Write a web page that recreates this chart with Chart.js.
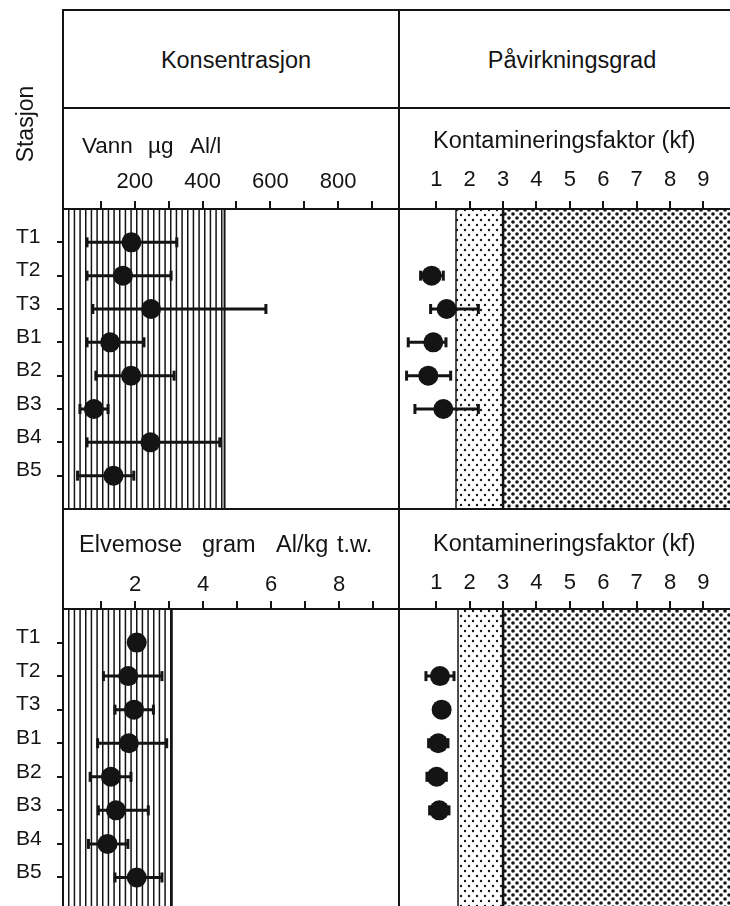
<!DOCTYPE html>
<html>
<head>
<meta charset="utf-8">
<script src="https://cdn.jsdelivr.net/npm/chart.js@4/dist/chart.umd.min.js"></script>
<style>
  html, body { margin: 0; padding: 0; background: #fff; }
  #root { position: relative; width: 730px; height: 906px; overflow: hidden; background: #fff;
          font-family: 'Liberation Sans', Arial, Helvetica, sans-serif; color: #141414; }
  canvas { position: absolute; }
  .ln { position: absolute; background: #141414; }
  .tx { position: absolute; white-space: pre; line-height: 1; }
  .c { transform: translate(-50%, -50%); }
  .l { transform: translateY(-50%); }
</style>
</head>
<body>
<div id="root">
  <canvas id="cTL" width="399" height="401" style="left:0;top:108px"></canvas>
  <canvas id="cTR" width="331" height="401" style="left:399px;top:108px"></canvas>
  <canvas id="cBL" width="399" height="397" style="left:0;top:509px"></canvas>
  <canvas id="cBR" width="331" height="397" style="left:399px;top:509px"></canvas>

  <!-- frame lines -->
  <div class="ln" style="left:62px;top:9px;width:668px;height:2px"></div>
  <div class="ln" style="left:62px;top:107px;width:668px;height:2px"></div>
  <div class="ln" style="left:62px;top:208px;width:668px;height:2px"></div>
  <div class="ln" style="left:62px;top:508px;width:668px;height:2px"></div>
  <div class="ln" style="left:62px;top:608px;width:668px;height:2px"></div>
  <div class="ln" style="left:62px;top:9px;width:2px;height:897px"></div>
  <div class="ln" style="left:398px;top:9px;width:2px;height:897px"></div>

  <!-- texts -->
  <div class="tx c" style="left:25px;top:124px;font-size:23px;transform:translate(-50%,-50%) rotate(-90deg)">Stasjon</div>
  <div class="tx c" style="left:236px;top:61px;font-size:23.5px">Konsentrasjon</div>
  <div class="tx c" style="left:572px;top:61px;font-size:23.5px">Påvirkningsgrad</div>

  <div class="tx l" style="left:82px;top:146px;font-size:22.5px">Vann</div>
  <div class="tx l" style="left:148px;top:146px;font-size:22.5px">µg</div>
  <div class="tx l" style="left:190px;top:146px;font-size:22.5px">Al/l</div>
  <div class="tx l" style="left:433px;top:141px;font-size:23.5px">Kontamineringsfaktor (kf)</div>

  <div class="tx l" style="left:79px;top:545px;font-size:23.5px">Elvemose</div>
  <div class="tx l" style="left:202px;top:545px;font-size:23.5px">gram</div>
  <div class="tx l" style="left:276px;top:545px;font-size:23.5px">Al/kg</div>
  <div class="tx l" style="left:337px;top:545px;font-size:23.5px">t.w.</div>
  <div class="tx l" style="left:433px;top:544px;font-size:23.5px">Kontamineringsfaktor (kf)</div>
</div>

<script>
// ---------------- data ----------------
const stations = ['T1', 'T2', 'T3', 'B1', 'B2', 'B3', 'B4', 'B5'];

// Vann, µg Al/l
const vannMean = [190, 165, 248, 127, 189, 79, 246, 137];
const vannLow  = [59, 59, 76, 59, 85, 38, 59, 31];
const vannHigh = [324, 307, 587, 227, 316, 121, 451, 197];
const vannLimit = 465;
const vannTicks = [100, 200, 300, 400, 500, 600, 700, 800, 900];
const vannTickLabels = ['', '200', '', '400', '', '600', '', '800', ''];

// Kontamineringsfaktor, vann
const kfVannMean = [null, 0.86, 1.31, 0.91, 0.76, 1.21, null, null];
const kfVannLow  = [null, 0.53, 0.83, 0.16, 0.11, 0.36, null, null];
const kfVannHigh = [null, 1.21, 2.26, 1.29, 1.43, 2.26, null, null];
const kfVannModerate = 1.59;

// Elvemose, gram Al/kg t.w.
const moseMean = [2.05, 1.80, 1.97, 1.82, 1.29, 1.44, 1.19, 2.05];
const moseLow  = [null, 1.07, 1.41, 0.90, 0.68, 0.92, 0.63, 1.41];
const moseHigh = [null, 2.79, 2.54, 2.93, 1.88, 2.39, 1.79, 2.79];
const moseLimit = 3.08;
const moseTicks = [1, 2, 3, 4, 5, 6, 7, 8, 9];
const moseTickLabels = ['', '2', '', '4', '', '6', '', '8', ''];

// Kontamineringsfaktor, elvemose
const kfMoseMean = [null, 1.11, 1.16, 1.06, 1.01, 1.09, null, null];
const kfMoseLow  = [null, 0.69, null, 0.77, 0.72, 0.80, null, null];
const kfMoseHigh = [null, 1.53, null, 1.35, 1.30, 1.38, null, null];
const kfMoseModerate = 1.65;

const kfHighLimit = 3;
const kfTicks = [1, 2, 3, 4, 5, 6, 7, 8, 9];
const kfTickLabels = ['1', '2', '3', '4', '5', '6', '7', '8', '9'];

// ---------------- drawing ----------------
const FONT = "'Liberation Sans', Arial, Helvetica, sans-serif";
const INK = '#141414';

function makePatterns(ctx) {
  const mk = (w, h, draw) => {
    const c = document.createElement('canvas');
    c.width = w; c.height = h;
    const g = c.getContext('2d');
    g.fillStyle = '#fff'; g.fillRect(0, 0, w, h);
    g.fillStyle = INK; draw(g);
    return ctx.createPattern(c, 'repeat');
  };
  const dots = (pts, r) => g => pts.forEach(([x, y]) => { g.beginPath(); g.arc(x, y, r, 0, Math.PI * 2); g.fill(); });
  return {
    hatch: mk(17, 4, g => [0, 5.67, 11.33].forEach(x => g.fillRect(x, 0, 1.5, 4))),
    light: mk(8, 10, dots([[2, 2], [6, 7]], 1.2)),
    dense: mk(8, 8, dots([[2, 2], [6, 6]], 1.8))
  };
}

const zonePlugin = {
  id: 'zones',
  beforeDatasetsDraw(chart, args, opts) {
    const { ctx, chartArea: a } = chart;
    const xs = chart.scales.x;
    if (!chart.$pat) chart.$pat = makePatterns(ctx);
    ctx.save();
    ctx.beginPath(); ctx.rect(a.left, a.top, a.right - a.left, a.bottom - a.top); ctx.clip();
    for (const z of (opts.list || [])) {
      const x0 = z.from == null ? a.left : xs.getPixelForValue(z.from);
      const x1 = z.to == null ? a.right : xs.getPixelForValue(z.to);
      ctx.fillStyle = chart.$pat[z.kind];
      ctx.fillRect(x0, a.top, x1 - x0, a.bottom - a.top);
      ctx.fillStyle = INK;
      if (z.edgeLeft) ctx.fillRect(x0 - z.edgeLeft / 2, a.top, z.edgeLeft, a.bottom - a.top);
      if (z.edgeRight) ctx.fillRect(x1 - z.edgeRight / 2, a.top, z.edgeRight, a.bottom - a.top);
    }
    ctx.restore();
  }
};

function dotData(mean) {
  const d = [];
  mean.forEach((m, i) => { if (m != null) d.push({ x: m, y: i + 1 }); });
  return d;
}
function errData(lo, hi) {
  const d = [];
  lo.forEach((l, i) => {
    if (l != null && hi[i] != null) d.push({ x: l, y: i + 1 }, { x: hi[i], y: i + 1 }, { x: null, y: null });
  });
  return d;
}

function noPad(s) { s.paddingTop = 0; s.paddingBottom = 0; s.paddingLeft = 0; s.paddingRight = 0; }

function makeChart(id, c) {
  const labelFor = (ticks, labels) => v => { const k = ticks.indexOf(v); return k >= 0 ? labels[k] : ''; };
  return new Chart(document.getElementById(id), {
    type: 'scatter',
    data: {
      datasets: [
        { data: dotData(c.mean), pointStyle: 'circle', pointRadius: 10, pointBackgroundColor: INK,
          pointBorderWidth: 0, showLine: false, order: 0, clip: false },
        { data: errData(c.low, c.high), showLine: true, spanGaps: false, borderColor: INK, borderWidth: 3,
          pointStyle: 'line', pointRotation: 90, pointRadius: 5, pointBorderWidth: 3, pointBorderColor: INK,
          pointBackgroundColor: INK, order: 1, clip: false }
      ]
    },
    options: {
      responsive: false, animation: false, devicePixelRatio: 1, events: [],
      layout: { autoPadding: false, padding: { left: c.padLeft || 0, right: 0, top: 0, bottom: 0 } },
      plugins: { legend: { display: false }, tooltip: { enabled: false }, zones: { list: c.zones } },
      scales: {
        x: {
          type: 'linear', position: 'top', min: c.xMin, max: c.xMax,
          afterBuildTicks: s => { s.ticks = c.ticks.map(v => ({ value: v })); },
          afterFit: s => { s.height = c.xHeight; noPad(s); },
          grid: { drawOnChartArea: false, drawTicks: true, tickLength: 8, lineWidth: 2, tickWidth: 2, tickColor: INK, color: INK },
          border: { display: false },
          ticks: { padding: c.tickPad, autoSkip: false, maxRotation: 0, color: INK,
                   font: { family: FONT, size: 22 }, callback: labelFor(c.ticks, c.tickLabels) }
        },
        y: {
          type: 'linear', reverse: true, min: 0, max: c.yMax, display: c.showY,
          afterBuildTicks: s => { s.ticks = stations.map((_, i) => ({ value: i + 1 })); },
          afterFit: s => { if (c.showY) s.width = 47; noPad(s); },
          grid: { drawOnChartArea: false, drawTicks: true, tickLength: 6, lineWidth: 2, tickWidth: 2, tickColor: INK, color: INK },
          border: { display: false },
          ticks: { crossAlign: 'far', labelOffset: -5, padding: 4, color: INK, autoSkip: false,
                   font: { family: FONT, size: 21 }, callback: v => stations[v - 1] || '' }
        }
      }
    },
    plugins: [zonePlugin]
  });
}

makeChart('cTL', {
  mean: vannMean, low: vannLow, high: vannHigh, xMin: -12, xMax: 980,
  ticks: vannTicks, tickLabels: vannTickLabels, xHeight: 101, tickPad: 6, yMax: 9, showY: true, padLeft: 16,
  zones: [{ from: null, to: vannLimit, kind: 'hatch', edgeRight: 2 }]
});
makeChart('cTR', {
  mean: kfVannMean, low: kfVannLow, high: kfVannHigh, xMin: -0.117, xMax: 9.796,
  ticks: kfTicks, tickLabels: kfTickLabels, xHeight: 101, tickPad: 8, yMax: 9, showY: false,
  zones: [{ from: kfVannModerate, to: kfHighLimit, kind: 'light', edgeLeft: 1.5 },
          { from: kfHighLimit, to: null, kind: 'dense', edgeLeft: 2.5 }]
});
makeChart('cBL', {
  mean: moseMean, low: moseLow, high: moseHigh, xMin: -0.118, xMax: 9.76,
  ticks: moseTicks, tickLabels: moseTickLabels, xHeight: 100, tickPad: 3, yMax: 8.85, showY: true, padLeft: 16,
  zones: [{ from: null, to: moseLimit, kind: 'hatch', edgeRight: 2 }]
});
makeChart('cBR', {
  mean: kfMoseMean, low: kfMoseLow, high: kfMoseHigh, xMin: -0.117, xMax: 9.796,
  ticks: kfTicks, tickLabels: kfTickLabels, xHeight: 100, tickPad: 5, yMax: 8.85, showY: false,
  zones: [{ from: kfMoseModerate, to: kfHighLimit, kind: 'light', edgeLeft: 1.5 },
          { from: kfHighLimit, to: null, kind: 'dense', edgeLeft: 2.5 }]
});
</script>
</body>
</html>
